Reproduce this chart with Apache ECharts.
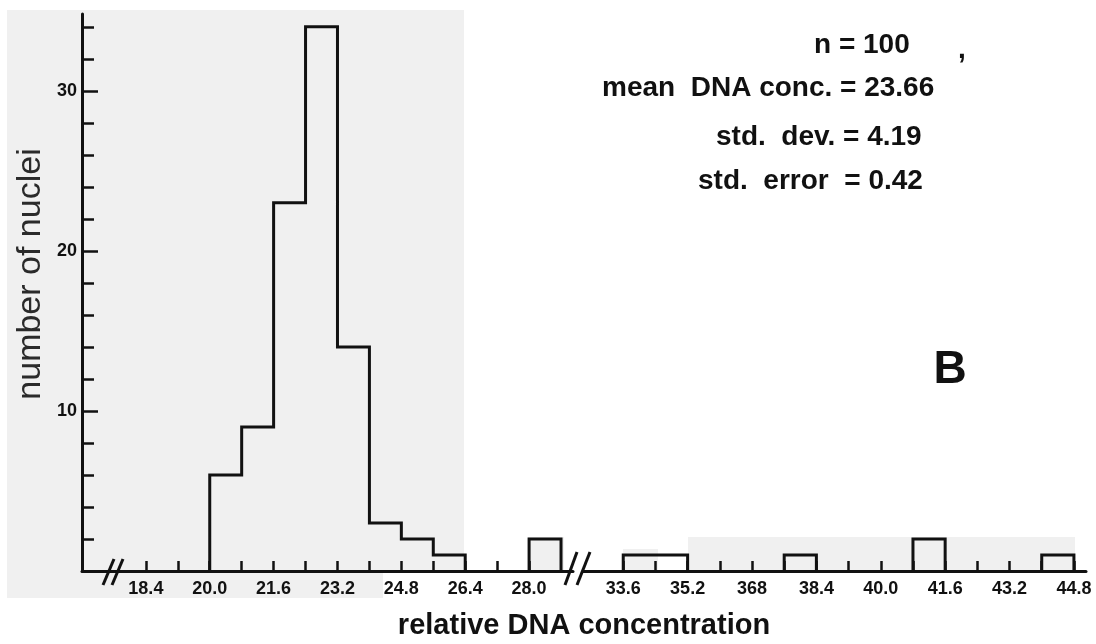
<!DOCTYPE html>
<html>
<head>
<meta charset="utf-8">
<script src="https://cdn.jsdelivr.net/npm/echarts@6.0.0/dist/echarts.min.js"></script>
<style>
  html, body { margin: 0; padding: 0; background: #fff; }
  #main { width: 1096px; height: 644px; }
</style>
</head>
<body>
<div id="main"></div>
<script>
// histogram: left edge of every bin and the number of nuclei in it (bin width 0.8)
const binWidth = 0.8
const binStarts = [20.0, 20.8, 21.6, 22.4, 23.2, 24.0, 24.8, 25.6, 28.0, 33.6, 34.4, 37.6, 40.8, 44.0]
const nucleiCounts = [6, 9, 23, 34, 14, 3, 2, 1, 2, 1, 1, 1, 2, 1]

// x axis is broken between 28.8 and 33.6
const leftTicks = [18.4, 19.2, 20.0, 20.8, 21.6, 22.4, 23.2, 24.0, 24.8, 25.6, 26.4, 27.2, 28.0]
const rightTicks = [33.6, 34.4, 35.2, 36.0, 36.8, 37.6, 38.4, 39.2, 40.0, 40.8, 41.6, 42.4, 43.2, 44.0, 44.8]
const leftLabelValues = [18.4, 20.0, 21.6, 23.2, 24.8, 26.4, 28.0]
const leftLabels = ['18.4', '20.0', '21.6', '23.2', '24.8', '26.4', '28.0']
const rightLabelValues = [33.6, 35.2, 36.8, 38.4, 40.0, 41.6, 43.2, 44.8]
const rightLabels = ['33.6', '35.2', '368', '38.4', '40.0', '41.6', '43.2', '44.8']

const yTicks = [2, 4, 6, 8, 10, 12, 14, 16, 18, 20, 22, 24, 26, 28, 30, 32, 34]
const yLabelValues = [10, 20, 30]

const statLines = ['n = 100', 'mean  DNA conc. = 23.66', 'std.  dev. = 4.19', 'std.  error  = 0.42']

const FONT = '"Liberation Sans", Arial, Helvetica, sans-serif'
const INK = '#111'
const SCAN = '#f0f0f0'

const chart = echarts.init(document.getElementById('main'))

const labelFor = (values, labels) => v => {
    const i = values.findIndex(x => Math.abs(x - v) < 1e-6)
    return i < 0 ? '' : labels[i]
}

// one outline (stair) per run of touching bins
const buildSeries = () => {
    const groups = []
    binStarts.forEach((s, i) => {
        const axis = s < 30 ? 0 : 1
        const last = groups[groups.length - 1]
        if (last && last.axis === axis && Math.abs(last.end - s) < 1e-6) {
            last.bins.push(i)
            last.end = s + binWidth
        } else {
            groups.push({ axis, bins: [i], end: s + binWidth })
        }
    })
    return groups.map(g => {
        const pts = []
        g.bins.forEach((i, k) => {
            const s = binStarts[i]
            pts.push([s, k === 0 ? 0 : nucleiCounts[g.bins[k - 1]]])
            pts.push([s, nucleiCounts[i]])
            pts.push([s + binWidth, nucleiCounts[i]])
        })
        pts.push([g.end, 0])
        return {
            type: 'line',
            xAxisIndex: g.axis,
            yAxisIndex: g.axis === 0 ? 0 : 2,
            data: pts,
            symbol: 'none',
            lineStyle: { color: INK, width: 3, join: 'miter' },
            clip: false,
            z: 3
        }
    })
}

const xAxisBase = {
    type: 'value',
    position: 'bottom',
    splitLine: { show: false },
    axisLine: { onZero: false, lineStyle: { color: INK, width: 3 } },
    axisTick: { inside: true, length: 10, lineStyle: { color: INK, width: 2.5 } },
    axisLabel: { color: INK, fontFamily: FONT, fontWeight: 'bold', fontSize: 18, margin: 9 }
}

const yAxisBase = {
    type: 'value',
    position: 'left',
    min: 0,
    max: 34.8,
    splitLine: { show: false },
    axisLine: { onZero: false, lineStyle: { color: INK, width: 3 } },
    axisTick: { inside: true, length: 12, customValues: yTicks, lineStyle: { color: INK, width: 2.5 } },
    axisLabel: {
        color: INK, fontFamily: FONT, fontWeight: 'bold', fontSize: 18, margin: 5,
        customValues: yLabelValues
    }
}

const txt = (text, x, y, size, align) => ({
    type: 'text', x, y, z: 10,
    style: {
        text, fill: INK, font: `bold ${size}px ${FONT}`,
        align: align || 'left', verticalAlign: 'middle',
        textAlign: align || 'left', textVerticalAlign: 'middle'
    }
})

const slash = (x1, y1, x2, y2) => ({
    type: 'line', z: 10,
    shape: { x1, y1, x2, y2 },
    style: { stroke: INK, lineWidth: 3 }
})

const scanRect = (x, y, w, h) => ({
    type: 'rect', z: -10, silent: true,
    shape: { x, y, width: w, height: h },
    style: { fill: SCAN }
})

const option = {
    backgroundColor: '#fff',
    animation: false,
    grid: [
        { left: 82, top: 14, width: 491, height: 557 },
        { left: 583, top: 14, width: 503, height: 557 }
    ],
    xAxis: [
        Object.assign({}, xAxisBase, {
            gridIndex: 0, min: 16.8, max: 29.1,
            axisTick: Object.assign({}, xAxisBase.axisTick, { customValues: leftTicks }),
            axisLabel: Object.assign({}, xAxisBase.axisLabel, {
                customValues: leftLabelValues,
                formatter: labelFor(leftLabelValues, leftLabels)
            })
        }),
        Object.assign({}, xAxisBase, {
            gridIndex: 1, min: 32.6, max: 45.1,
            axisTick: Object.assign({}, xAxisBase.axisTick, { customValues: rightTicks }),
            axisLabel: Object.assign({}, xAxisBase.axisLabel, {
                customValues: rightLabelValues,
                formatter: labelFor(rightLabelValues, rightLabels)
            })
        })
    ],
    yAxis: [
        Object.assign({}, yAxisBase, { gridIndex: 0 }),
        // longer ticks at the labelled values, on the same left edge
        Object.assign({}, yAxisBase, {
            gridIndex: 0,
            position: 'left',
            offset: 0,
            axisLine: { show: false, onZero: false },
            axisTick: { inside: true, length: 16, customValues: yLabelValues, lineStyle: { color: INK, width: 2.5 } },
            axisLabel: { show: false }
        }),
        Object.assign({}, yAxisBase, { gridIndex: 1, show: false })
    ],
    graphic: [
        // scanned paper patches
        scanRect(7, 10, 457, 563),
        scanRect(7, 573, 376, 25),
        scanRect(528, 537, 36, 34),
        scanRect(623, 549, 35, 22),
        scanRect(688, 537, 387, 34),
        // axis break marks
        slash(103, 585, 114, 559),
        slash(112, 585, 123, 559),
        slash(565, 585, 577, 552),
        slash(577, 585, 590, 552),
        // statistics block
        txt(statLines[0], 814, 45, 28),
        txt(',', 958, 50, 28),
        txt(statLines[1], 602, 88, 28),
        txt(statLines[2], 716, 137, 28),
        txt(statLines[3], 698, 181, 28),
        txt('B', 950, 370, 46, 'center'),
        // axis titles
        txt('relative DNA concentration', 584, 626, 29, 'center'),
        {
            type: 'text', x: 31, y: 274, z: 10, rotation: Math.PI / 2,
            style: {
                text: 'number of nuclei', fill: '#2a2a2a', font: `34px ${FONT}`,
                align: 'center', verticalAlign: 'middle', textAlign: 'center', textVerticalAlign: 'middle'
            }
        }
    ],
    series: buildSeries()
}

chart.setOption(option)
</script>
</body>
</html>
